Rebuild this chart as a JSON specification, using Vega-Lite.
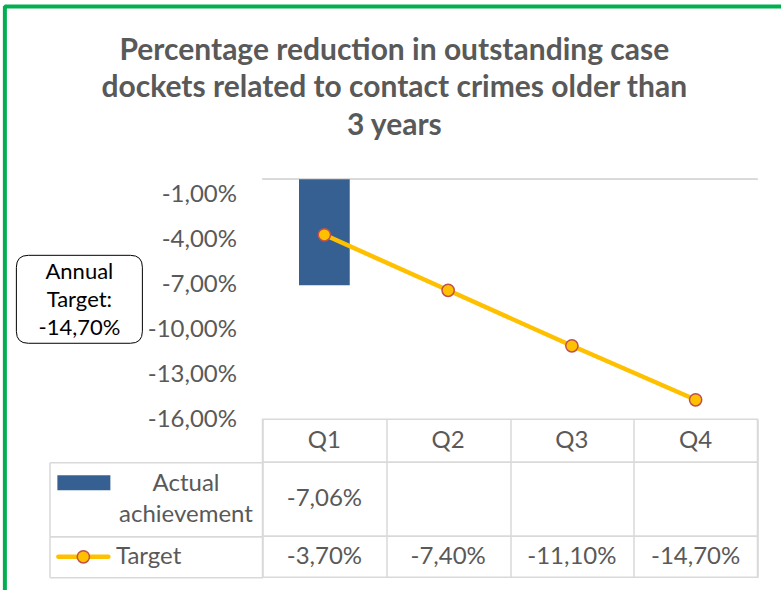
{
  "$schema": "https://vega.github.io/schema/vega-lite/v6.json",
  "padding": {"left": 1.5, "top": 3.3, "right": 0, "bottom": 0},
  "autosize": {"type": "pad"},
  "background": "white",
  "bounds": "flush",
  "spacing": 0,
  "config": {
    "font": "Lato",
    "view": {"stroke": null},
    "locale": {"number": {"decimal": ",", "thousands": ".", "grouping": [3], "currency": ["", ""], "minus": "-", "percent": "%"}},
    "axis": {"labelFont": "Lato", "labelFontSize": 24, "labelColor": "#595959"},
    "text": {"font": "Lato"}
  },
  "datasets": {
    "series": [
      {"quarter": "Q1", "series": "Actual achievement", "value": -0.0706},
      {"quarter": "Q1", "series": "Target", "value": -0.037},
      {"quarter": "Q2", "series": "Target", "value": -0.074},
      {"quarter": "Q3", "series": "Target", "value": -0.111},
      {"quarter": "Q4", "series": "Target", "value": -0.147}
    ],
    "note": [{"note": "Annual\nTarget:\n-14,70%"}]
  },
  "vconcat": [
    {
      "title": {
        "text": ["Percentage reduction in outstanding case", "dockets related to contact crimes older than", "3 years"],
        "fontSize": 30, "fontWeight": "bold", "font": "Lato", "color": "#595959",
        "lineHeight": 37.5, "anchor": "middle", "frame": "bounds", "offset": 38, "dx": 8
      },
      "width": 495,
      "height": 240,
      "data": {"name": "series"},
      "layer": [
        {
          "mark": {"type": "rule", "color": "#d9d9d9", "strokeWidth": 1.5},
          "encoding": {"y": {"datum": 0, "type": "quantitative"}}
        },
        {
          "transform": [{"filter": "datum.series === 'Actual achievement'"}],
          "mark": {"type": "bar", "color": "#376092", "width": {"band": 0.41}},
          "encoding": {
            "x": {"field": "quarter", "type": "nominal", "scale": {"type": "band", "domain": ["Q1", "Q2", "Q3", "Q4"], "paddingInner": 0, "paddingOuter": 0}, "axis": null},
            "y": {"field": "value", "type": "quantitative", "scale": {"domain": [-0.16, 0], "nice": false},
              "axis": {"values": [-0.01, -0.04, -0.07, -0.10, -0.13, -0.16], "format": ".2%", "domain": false, "ticks": false, "grid": false, "labelPadding": 26, "title": null, "labelFontSize": 24, "labelColor": "#595959"}}
          }
        },
        {
          "transform": [{"filter": "datum.series === 'Target'"}],
          "mark": {"type": "line", "color": "#FFC000", "strokeWidth": 4.5},
          "encoding": {
            "x": {"field": "quarter", "type": "nominal"},
            "y": {"field": "value", "type": "quantitative"}
          }
        },
        {
          "transform": [{"filter": "datum.series === 'Target'"}],
          "mark": {"type": "point", "shape": "circle", "filled": true, "fill": "#FFC000", "stroke": "#C0504D", "strokeWidth": 1.5, "size": 150, "opacity": 1},
          "encoding": {
            "x": {"field": "quarter", "type": "nominal"},
            "y": {"field": "value", "type": "quantitative"}
          }
        },
        {
          "data": {"name": "note"},
          "mark": {"type": "point", "shape": "M-0.81,-0.698L0.81,-0.698Q1,-0.698 1,-0.508L1,0.508Q1,0.698 0.81,0.698L-0.81,0.698Q-1,0.698 -1,0.508L-1,-0.508Q-1,-0.698 -0.81,-0.698Z", "size": 15876, "filled": false, "color": "black", "strokeWidth": 1, "opacity": 1, "xOffset": -245},
          "encoding": {"x": {"datum": "Q1"}, "y": {"datum": -0.08, "type": "quantitative"}}
        },
        {
          "data": {"name": "note"},
          "mark": {"type": "text", "color": "black", "fontSize": 22, "lineBreak": "\n", "lineHeight": 28, "align": "center", "baseline": "middle", "xOffset": -245, "yOffset": -27},
          "encoding": {"x": {"datum": "Q1"}, "y": {"datum": -0.08, "type": "quantitative"}, "text": {"field": "note"}}
        }
      ]
    },
    {
      "width": 495,
      "height": 43,
      "view": {"stroke": "#d9d9d9", "strokeWidth": 1.5},
      "data": {"name": "series"},
      "transform": [{"filter": "datum.series === 'Target'"}],
      "mark": {"type": "text", "fontSize": 24, "color": "#595959"},
      "encoding": {
        "x": {"field": "quarter", "type": "nominal", "scale": {"type": "band", "domain": ["Q1", "Q2", "Q3", "Q4"], "paddingInner": 0, "paddingOuter": 0},
          "axis": {"grid": true, "gridColor": "#d9d9d9", "gridWidth": 1.5, "tickBand": "extent", "labels": false, "ticks": false, "domain": false, "title": null}},
        "text": {"field": "quarter"}
      }
    },
    {
      "width": 495,
      "height": 74,
      "view": {"stroke": "#d9d9d9", "strokeWidth": 1.5},
      "data": {"name": "series"},
      "transform": [{"filter": "datum.series === 'Actual achievement'"}],
      "encoding": {
        "y": {"field": "series", "type": "nominal", "scale": {"type": "band", "domain": ["Actual achievement"], "paddingInner": 0, "paddingOuter": 0},
          "axis": {"orient": "left", "offset": 213, "domain": true, "domainColor": "#d9d9d9", "domainWidth": 1.5, "ticks": true, "tickSize": -213, "tickColor": "#d9d9d9", "tickWidth": 1.5, "tickBand": "extent", "labelAlign": "center", "labelBaseline": "middle", "labelPadding": 77, "labelOffset": -16, "labelExpr": "split(datum.label, ' ')", "labelLineHeight": 31, "labelFontSize": 24, "labelColor": "#595959", "title": null, "grid": false}}
      },
      "layer": [
        {
          "mark": {"type": "text", "fontSize": 24, "color": "#595959"},
          "encoding": {
            "x": {"field": "quarter", "type": "nominal", "scale": {"type": "band", "domain": ["Q1", "Q2", "Q3", "Q4"], "paddingInner": 0, "paddingOuter": 0},
              "axis": {"grid": true, "gridColor": "#d9d9d9", "gridWidth": 1.5, "tickBand": "extent", "labels": false, "ticks": false, "domain": false, "title": null}},
            "text": {"field": "value", "type": "quantitative", "format": ".2%"}
          }
        },
        {
          "mark": {"type": "point", "shape": "M-1,-0.283H1V0.283H-1Z", "size": 2809, "filled": true, "color": "#376092", "opacity": 1, "xOffset": -240.5, "yOffset": -16.5},
          "encoding": {"x": {"datum": "Q1"}}
        }
      ]
    },
    {
      "width": 495,
      "height": 41,
      "view": {"stroke": "#d9d9d9", "strokeWidth": 1.5},
      "data": {"name": "series"},
      "transform": [{"filter": "datum.series === 'Target'"}],
      "encoding": {
        "y": {"field": "series", "type": "nominal", "scale": {"type": "band", "domain": ["Target"], "paddingInner": 0, "paddingOuter": 0},
          "axis": {"orient": "left", "offset": 213, "domain": true, "domainColor": "#d9d9d9", "domainWidth": 1.5, "ticks": true, "tickSize": -213, "tickColor": "#d9d9d9", "tickWidth": 1.5, "tickBand": "extent", "labelAlign": "left", "labelBaseline": "middle", "labelPadding": 147, "labelFontSize": 24, "labelColor": "#595959", "title": null, "grid": false}}
      },
      "layer": [
        {
          "mark": {"type": "text", "fontSize": 24, "color": "#595959"},
          "encoding": {
            "x": {"field": "quarter", "type": "nominal", "scale": {"type": "band", "domain": ["Q1", "Q2", "Q3", "Q4"], "paddingInner": 0, "paddingOuter": 0},
              "axis": {"grid": true, "gridColor": "#d9d9d9", "gridWidth": 1.5, "tickBand": "extent", "labels": false, "ticks": false, "domain": false, "title": null}},
            "text": {"field": "value", "type": "quantitative", "format": ".2%"}
          }
        },
        {
          "transform": [{"filter": "datum.quarter === 'Q1'"}],
          "mark": {"type": "point", "shape": "M-1,0H1", "size": 2500, "filled": false, "color": "#FFC000", "strokeWidth": 4.5, "strokeCap": "round", "opacity": 1, "xOffset": -241},
          "encoding": {"x": {"datum": "Q1"}}
        },
        {
          "transform": [{"filter": "datum.quarter === 'Q1'"}],
          "mark": {"type": "point", "shape": "circle", "size": 150, "filled": true, "fill": "#FFC000", "stroke": "#C0504D", "strokeWidth": 1.5, "opacity": 1, "xOffset": -241},
          "encoding": {"x": {"datum": "Q1"}}
        },
        {
          "transform": [{"filter": "datum.quarter === 'Q1'"}],
          "mark": {"type": "point", "shape": "M-3.195,0.385V-5.502H4.65", "size": 40000, "filled": false, "color": "#00B050", "strokeWidth": 4, "strokeJoin": "bevel", "opacity": 1},
          "encoding": {"x": {"datum": "Q1"}}
        }
      ]
    }
  ]
}
